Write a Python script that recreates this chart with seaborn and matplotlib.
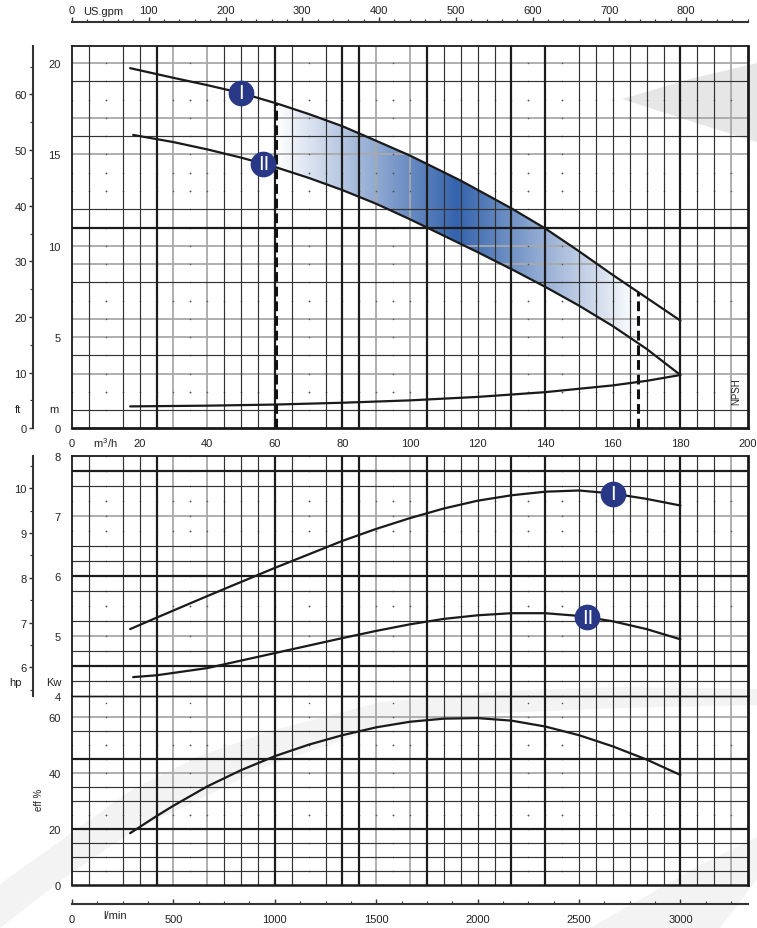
import numpy as np
import pandas as pd
import matplotlib
matplotlib.use("Agg")
import matplotlib.pyplot as plt
import seaborn as sns
from matplotlib.colors import LinearSegmentedColormap
from matplotlib.patches import Polygon
from matplotlib.ticker import FixedLocator

# ---------------- data ----------------
q_head_I = [17.2, 30, 40, 50, 60.5, 70, 80, 90, 100, 115, 130, 140, 150, 160, 170, 180]
h_head_I = [19.73, 19.20, 18.80, 18.37, 17.80, 17.22, 16.55, 15.75, 14.94, 13.57, 12.05, 10.95, 9.70, 8.40, 7.15, 5.90]
q_head_II = [18.1, 30, 40, 50, 60, 70, 80, 90, 100, 110, 120, 130, 140, 150, 160, 170, 180]
h_head_II = [16.07, 15.68, 15.28, 14.83, 14.32, 13.72, 13.05, 12.30, 11.45, 10.55, 9.65, 8.72, 7.75, 6.72, 5.60, 4.35, 2.92]
q_npsh = [17.2, 40, 60, 80, 100, 120, 140, 160, 170, 180]
h_npsh = [1.20, 1.24, 1.30, 1.40, 1.53, 1.72, 1.98, 2.35, 2.60, 2.92]
q_pow_I = [17.2, 25, 40, 60, 80, 90, 100, 110, 120, 130, 140, 150, 160, 170, 180]
p_pow_I = [5.11, 5.30, 5.66, 6.13, 6.58, 6.78, 6.96, 7.12, 7.25, 7.34, 7.40, 7.42, 7.37, 7.28, 7.17]
q_pow_II = [18.1, 25, 40, 60, 80, 90, 100, 110, 120, 130, 140, 150, 160, 170, 180]
p_pow_II = [4.31, 4.34, 4.46, 4.71, 4.96, 5.08, 5.19, 5.28, 5.34, 5.375, 5.375, 5.33, 5.24, 5.11, 4.94]
q_eff = [17.2, 25, 30, 40, 50, 60, 70, 80, 90, 100, 110, 120, 130, 140, 150, 160, 170, 180]
eff = [18.5, 24.6, 28.3, 35.2, 41.0, 46.0, 50.1, 53.5, 56.3, 58.3, 59.4, 59.6, 58.7, 56.6, 53.5, 49.5, 44.8, 39.3]
q_duty = [60.5, 167.5]
marker_head = [("I", 50.0), ("II", 56.6)]
marker_power = [("I", 160.0), ("II", 152.5)]

x_ticks = [0, 20, 40, 60, 80, 100, 120, 140, 160, 180, 200]
m_ticks = [0, 5, 10, 15, 20]
ft_ticks = [0, 10, 20, 30, 40, 50, 60]
ft_minor = [5, 15, 25, 35, 45, 55, 65]
gpm_ticks = [0, 100, 200, 300, 400, 500, 600, 700, 800]
gpm_minor = list(range(20, 881, 20))
kw_ticks = [4, 5, 6, 7, 8]
hp_ticks = [6, 7, 8, 9, 10]
hp_minor = [5.5, 6.5, 7.5, 8.5, 9.5, 10.5]
eff_ticks = [0, 20, 40, 60]
lmin_ticks = [0, 500, 1000, 1500, 2000, 2500, 3000]
lmin_minor = list(range(125, 3334, 125))

# grid template: k = thin black, g = gray, t = thick black, d = dotted
v_grid = {5: 'k', 10: 'd', 15: 'k', 20: 'k', 25: 't', 30: 'g', 35: 'd', 40: 'g', 45: 'k',
          50: 'k', 55: 'k', 60: 't', 65: 'k', 70: 'd', 75: 'k', 80: 't', 85: 't', 90: 'g',
          95: 'd', 100: 'g', 105: 't', 110: 'k', 115: 'k', 120: 'k', 125: 'k', 130: 't',
          135: 'd', 140: 't', 145: 'd', 150: 'k', 155: 'k', 160: 'k', 165: 'k', 170: 'k',
          175: 'k', 180: 't', 185: 'k', 190: 'k', 195: 'g'}
h_grid_head = {20: 'g', 19: 'k', 18: 'd', 17: 'g', 16: 'k', 15: 'g', 14: 'd', 13: 'd', 12: 'k',
               11: 't', 10: 'g', 9: 'g', 8: 'k', 7: 'd', 6: 'g', 5: 'g', 4: 'k', 3: 'g', 2: 'd', 1: 'k'}
h_grid_pow = {7.75: 't', 7.5: 'k', 7.25: 'd', 7.0: 'g', 6.75: 'd', 6.5: 'k', 6.25: 'k', 6.0: 't',
              5.75: 'k', 5.5: 'd', 5.25: 'k', 5.0: 'g', 4.75: 'k', 4.5: 't', 4.25: 'k'}
h_grid_eff = {60: 'g', 55: 'k', 50: 'd', 45: 't', 40: 'g', 35: 'k', 30: 'k', 25: 'd',
              20: 't', 15: 'k', 10: 'k', 5: 'k'}

# ---------------- style ----------------
sns.set_theme(style="white")
plt.rcParams['font.family'] = ['Liberation Sans', 'DejaVu Sans']
plt.rcParams['mathtext.default'] = 'regular'
TXT = '#222222'
LINE = '#1a1a1a'
NAVY = '#283887'

W, H = 757, 929
fig = plt.figure(figsize=(W / 100, H / 100), dpi=100)
fig.patch.set_facecolor('white')


def frac(x0, y0, x1, y1):
    return [x0 / W, 1 - y1 / H, (x1 - x0) / W, (y1 - y0) / H]


# background watermark shapes
bg = fig.add_axes([0, 0, 1, 1], zorder=-10)
bg.set_xlim(0, W)
bg.set_ylim(H, 0)
bg.axis('off')
bg.add_patch(Polygon([(622, 100), (690, 80), (757, 64), (757, 143), (690, 122)],
                     closed=True, fc='#e6e6e6', ec='none'))
up = [(0, 885), (67, 837), (133, 790), (200, 757), (267, 733), (380, 703), (500, 692), (620, 688), (757, 690)]
lo = [(757, 706), (620, 709), (500, 714), (380, 728), (267, 767), (200, 800), (133, 832), (67, 877), (0, 929)]
bg.add_patch(Polygon(up + lo, closed=True, fc='#f3f3f3', ec='none'))
bg.add_patch(Polygon([(590, 929), (650, 895), (700, 866), (757, 838), (757, 880), (720, 929)],
                     closed=True, fc='#f3f3f3', ec='none'))

ax_h = fig.add_axes(frac(72, 46.7, 748, 429.3))
ax_p = fig.add_axes(frac(72, 456.7, 748, 696.7))
ax_e = fig.add_axes(frac(72, 696.7, 748, 886))
for a in (ax_h, ax_p, ax_e):
    a.set_facecolor('none')
    a.set_xlim(0, 200)

ax_h.set_ylim(0, 20.96)
ax_p.set_ylim(4, 8)
ax_e.set_ylim(0, 67.6)

STY = {'k': dict(color='#333333', lw=0.85, zorder=2.2),
       'g': dict(color='#a9a9a9', lw=1.3, zorder=2.0),
       't': dict(color='#1c1c1c', lw=1.6, zorder=2.3)}


def draw_grid(ax, hspec, ymin, ymax, ystep):
    for x, s in v_grid.items():
        if s == 'd':
            ys = np.arange(ymin, ymax + 1e-9, ystep)
            ax.scatter([x] * len(ys), ys, s=1.3, color='#555555', lw=0, zorder=2.1)
        else:
            ax.axvline(x, **STY[s])
    for y, s in hspec.items():
        if s == 'd':
            xs = np.arange(0, 200.1, 5)
            ax.scatter(xs, [y] * len(xs), s=1.3, color='#555555', lw=0, zorder=2.1)
        else:
            ax.axhline(y, **STY[s])


draw_grid(ax_h, h_grid_head, 0, 21, 1)
draw_grid(ax_p, h_grid_pow, 4, 8, 0.25)
draw_grid(ax_e, h_grid_eff, 0, 65, 5)

# ---------------- head panel ----------------
qa, qb = q_duty
qs_I = [qa] + [q for q in q_head_I if qa < q < qb] + [qb]
hs_I = list(np.interp(qs_I, q_head_I, h_head_I))
qs_II = [qa] + [q for q in q_head_II if qa < q < qb] + [qb]
hs_II = list(np.interp(qs_II, q_head_II, h_head_II))
band = Polygon(list(zip(qs_I, hs_I)) + list(zip(qs_II[::-1], hs_II[::-1])),
               closed=True, fc='none', ec='none', transform=ax_h.transData)
ax_h.add_patch(band)
cmap = LinearSegmentedColormap.from_list('band', [(0, '#ffffff'), (0.5, '#3463ad'), (1.0, '#ffffff')])
grad = np.linspace(0, 1, 400)[None, :]
im = ax_h.imshow(grad, extent=[qa, qb, 0, 21], aspect='auto', cmap=cmap, zorder=1.5,
                 interpolation='bilinear')
im.set_clip_path(band)
ax_h.set_xlim(0, 200)
ax_h.set_ylim(0, 20.96)

head = pd.DataFrame({'q': q_head_I + q_head_II,
                     'h': h_head_I + h_head_II,
                     'curve': ['I'] * len(q_head_I) + ['II'] * len(q_head_II)})
sns.lineplot(data=head, x='q', y='h', units='curve', estimator=None, sort=False,
             color=LINE, lw=1.6, ax=ax_h, zorder=4)
sns.lineplot(x=q_npsh, y=h_npsh, sort=False, estimator=None, color=LINE, lw=1.6, ax=ax_h, zorder=4)

for qd in q_duty:
    ax_h.plot([qd, qd], [0, float(np.interp(qd, q_head_I, h_head_I))], color='#111111',
              lw=2.2, ls=(0, (3.2, 1.6)), zorder=5)


def badge(ax, q, y, label):
    ax.plot([q], [y], marker='o', ms=17.5, color=NAVY, mec=NAVY, zorder=7)
    ax.text(q, y, label, color='white', ha='center', va='center', fontsize=14.5,
            zorder=8)


badge(ax_h, marker_head[0][1], float(np.interp(marker_head[0][1], q_head_I, h_head_I)), marker_head[0][0])
badge(ax_h, marker_head[1][1], float(np.interp(marker_head[1][1], q_head_II, h_head_II)), marker_head[1][0])

# ---------------- power panel ----------------
powr = pd.DataFrame({'q': q_pow_I + q_pow_II,
                     'p': p_pow_I + p_pow_II,
                     'curve': ['I'] * len(q_pow_I) + ['II'] * len(q_pow_II)})
sns.lineplot(data=powr, x='q', y='p', units='curve', estimator=None, sort=False,
             color=LINE, lw=1.6, ax=ax_p, zorder=4)
badge(ax_p, marker_power[0][1], float(np.interp(marker_power[0][1], q_pow_I, p_pow_I)), marker_power[0][0])
badge(ax_p, marker_power[1][1], float(np.interp(marker_power[1][1], q_pow_II, p_pow_II)), marker_power[1][0])

# ---------------- efficiency panel ----------------
sns.lineplot(x=q_eff, y=eff, sort=False, estimator=None, color=LINE, lw=1.6, ax=ax_e, zorder=4)

# ---------------- axes, spines, ticks ----------------
for a in (ax_h, ax_p, ax_e):
    a.set_xlabel('')
    a.set_ylabel('')
    for s in a.spines.values():
        s.set_color('#1a1a1a')
        s.set_linewidth(1.3)
        s.set_zorder(6)
    a.spines['right'].set_linewidth(2.0)
    a.tick_params(length=0, labelsize=8, labelcolor=TXT, pad=8)

ax_h.spines['bottom'].set_linewidth(2.0)
ax_e.spines['bottom'].set_linewidth(1.8)
ax_p.spines['bottom'].set_linewidth(1.0)
ax_e.spines['top'].set_linewidth(1.0)

ax_h.set_xticks(x_ticks)
ax_h.set_xticklabels([str(v) for v in x_ticks])
ax_h.set_yticks(m_ticks)
ax_p.set_xticks([])
ax_p.set_yticks(kw_ticks)
ax_e.set_xticks([])
ax_e.set_yticks(eff_ticks)
ax_h.tick_params(axis='x', pad=7)

M2FT = 3.28084
KW2HP = 1 / 0.7457
loc_left = -39 / 676

sec_ft = ax_h.secondary_yaxis(loc_left, functions=(lambda m: m * M2FT, lambda f: f / M2FT))
sec_ft.set_yticks(ft_ticks)
sec_ft.yaxis.set_minor_locator(FixedLocator(ft_minor))

sec_hp = ax_p.secondary_yaxis(loc_left, functions=(lambda k: k * KW2HP, lambda h: h / KW2HP))
sec_hp.set_yticks(hp_ticks)
sec_hp.yaxis.set_minor_locator(FixedLocator(hp_minor))

for sec in (sec_ft, sec_hp):
    sec.tick_params(which='major', length=3, width=1.0, direction='out', pad=1.5,
                    labelsize=8, labelcolor=TXT, color='#333333')
    sec.tick_params(which='minor', length=2, width=0.8, direction='out', color='#333333')
    sec.spines['left'].set_linewidth(1.5)
    sec.spines['left'].set_color('#333333')

sec_gpm = ax_h.secondary_xaxis(1 + 23.4 / 382.6, functions=(lambda q: q * 4.40287, lambda g: g / 4.40287))
sec_gpm.set_xticks(gpm_ticks)
sec_gpm.xaxis.set_minor_locator(FixedLocator(gpm_minor))
sec_gpm.tick_params(which='major', length=3.5, width=1.0, direction='out', pad=1.5,
                    labelsize=8, labelcolor=TXT, color='#333333')
sec_gpm.tick_params(which='minor', length=2, width=0.8, direction='out', color='#333333')
sec_gpm.spines['top'].set_linewidth(1.5)
sec_gpm.spines['top'].set_color('#333333')

sec_l = ax_e.secondary_xaxis(-19 / 189.3, functions=(lambda q: q * 1000 / 60, lambda l: l * 60 / 1000))
sec_l.set_xticks(lmin_ticks)
sec_l.xaxis.set_minor_locator(FixedLocator(lmin_minor))
sec_l.tick_params(which='major', length=3.5, width=1.0, direction='in', pad=7,
                  labelsize=8, labelcolor=TXT, color='#333333')
sec_l.tick_params(which='minor', length=2, width=0.8, direction='in', color='#333333')
sec_l.spines['bottom'].set_linewidth(1.5)
sec_l.spines['bottom'].set_color('#333333')


# ---------------- free text ----------------
def ftext(x, y, s, **kw):
    kw.setdefault('fontsize', 8)
    kw.setdefault('color', TXT)
    kw.setdefault('ha', 'center')
    kw.setdefault('va', 'center')
    fig.text(x / W, 1 - y / H, s, **kw)


ftext(103, 12, 'US.gpm')
ftext(105, 443, 'm$^3$/h')
ftext(115, 916, 'l/min')
ftext(18, 410, 'ft')
ftext(54, 410, 'm')
ftext(16, 683, 'hp')
ftext(54, 683, 'Kw')
ftext(39, 800, 'eff %', rotation=90, fontsize=7)
ftext(736, 392, 'NPSH', rotation=90, fontsize=7)

fig.savefig('out.png', dpi=100)
